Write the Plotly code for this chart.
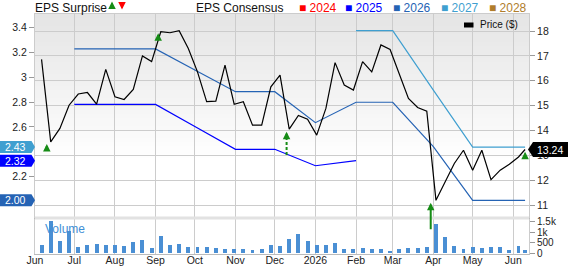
import pandas as pd
import plotly.graph_objects as go

# ---------------- data ----------------
week_dates = list(pd.date_range("2025-06-06", periods=53, freq="7D").strftime("%Y-%m-%d")) + ["2026-06-10"]
price = [16.86, 13.55, 14.09, 15.02, 15.47, 15.53, 15.06, 16.46, 15.36, 15.25,
         15.65, 17.00, 16.77, 17.97, 17.93, 18.01, 17.30, 16.36, 15.16, 15.18,
         16.63, 15.06, 15.16, 14.22, 14.22, 15.76, 16.23, 14.06, 14.61, 14.46,
         13.82, 14.89, 16.73, 15.83, 15.63, 16.77, 16.36, 17.44, 17.26, 16.30,
         15.29, 14.93, 14.78, 11.20, 11.94, 12.68, 13.21, 12.41, 13.21, 12.03,
         12.41, 12.65, 12.94, 13.24]
volume = [395, 1530, 600, 1070, 310, 395, 440, 395, 395, 330,
          535, 615, 250, 820, 395, 440, 300, 300, 285, 250,
          205, 205, 205, 160, 205, 395, 345, 680, 900, 570,
          395, 395, 500, 220, 205, 250, 205, 190, 125, 205,
          250, 265, 300, 1390, 760, 360, 205, 300, 265, 285,
          285, 160, 330, 140]

month_dates = ["2025-07-01", "2025-08-01", "2025-09-01", "2025-10-01", "2025-11-01",
               "2025-12-01", "2026-01-01", "2026-02-01", "2026-03-01", "2026-04-01",
               "2026-05-01", "2026-06-01", "2026-06-10"]
eps_2025 = [2.781, 2.781, 2.781, 2.603, 2.420, 2.420, 2.288, 2.329]
eps_2026 = [3.226, 3.226, 3.226, 3.057, 2.883, 2.883, 2.634, 2.798, 2.798, 2.442, 2.010, 2.010, 2.010]
eps_2027 = [3.373, 3.373, 2.896, 2.438, 2.438, 2.438]
dates_2025 = month_dates[:8]
dates_2026 = month_dates
dates_2027 = month_dates[7:]

eps_labels = {"2027": "2.43", "2025": "2.32", "2026": "2.00"}
price_label = "13.24"

# EPS surprise arrows: date, tip value (EPS axis), stem length (px), dashed tail value
surprise_dates = ["2025-06-10", "2025-09-03", "2025-12-10", "2026-03-30", "2026-06-10"]
surprise_tip = [2.463, 3.352, 2.561, 1.991, 2.400]
surprise_len_px = [8, 8, 0, 28, 7]
surprise_tail_dashed = [None, None, 2.374, None, None]

month_ticks = ["2025-06-01", "2025-07-01", "2025-08-01", "2025-09-01", "2025-10-01", "2025-11-01",
               "2025-12-01", "2026-01-01", "2026-02-01", "2026-03-01", "2026-04-01", "2026-05-01",
               "2026-06-01"]
month_text = ["Jun", "Jul", "Aug", "Sep", "Oct", "Nov", "Dec", "2026", "Feb", "Mar", "Apr", "May", "Jun"]

years = ["2024", "2025", "2026", "2027", "2028"]
year_colors = ["#ff0000", "#0000ff", "#2563b4", "#3f9fd0", "#b07d2b"]

# ---------------- styling ----------------
FONT = "Liberation Sans, Arial, sans-serif"
W, H = 568, 266
ML, MR, MT, MB = 35, 39, 14, 12
PW, PH = W - ML - MR, H - MT - MB
GREEN = "#168c16"
GRID = "#cccccc"


def py(px):  # pixel row -> paper y
    return (H - MB - px) / PH


def pxx(px):  # pixel col -> paper x
    return (px - ML) / PW


main_dom = [py(217), 1]
vol_dom = [0, py(219)]

fig = go.Figure()

c25, c26, c27 = year_colors[1], year_colors[2], year_colors[3]
fig.add_trace(go.Scatter(x=dates_2025, y=eps_2025, mode="lines", line=dict(color=c25, width=1.2),
                         xaxis="x", yaxis="y", hoverinfo="skip"))
fig.add_trace(go.Scatter(x=dates_2026, y=eps_2026, mode="lines", line=dict(color=c26, width=1.2),
                         xaxis="x", yaxis="y", hoverinfo="skip"))
fig.add_trace(go.Scatter(x=dates_2027, y=eps_2027, mode="lines", line=dict(color=c27, width=1.2),
                         xaxis="x", yaxis="y", hoverinfo="skip"))
fig.add_trace(go.Scatter(x=week_dates, y=price, mode="lines", line=dict(color="#000000", width=1.2),
                         xaxis="x", yaxis="y2", hoverinfo="skip"))
fig.add_trace(go.Bar(x=week_dates, y=volume, marker=dict(color="#4a8fd4", line=dict(width=0)),
                     width=3 * 86400000, xaxis="x2", yaxis="y3", hoverinfo="skip"))

# dashed stems
for d, tip, tail in zip(surprise_dates, surprise_tip, surprise_tail_dashed):
    if tail is not None:
        fig.add_trace(go.Scatter(x=[d, d], y=[tail, tip - 0.03], mode="lines",
                                 line=dict(color=GREEN, width=2, dash="3px,2px"),
                                 xaxis="x", yaxis="y", hoverinfo="skip"))

annotations = []
shapes = []

# arrows
for d, tip, L, tail in zip(surprise_dates, surprise_tip, surprise_len_px, surprise_tail_dashed):
    ay = L if tail is None else 5
    annotations.append(dict(x=d, y=tip, xref="x", yref="y", text="", showarrow=True,
                            ax=0, ay=ay, axref="pixel", ayref="pixel", arrowhead=2, arrowsize=0.75,
                            arrowwidth=2, arrowcolor=GREEN, standoff=0, startstandoff=0))

# gradient background
px0 = 14
while px0 < 160:
    c = int(round(229 + (px0 - 14) / (160 - 14) * 26))
    shapes.append(dict(type="rect", xref="paper", yref="paper", x0=0, x1=1,
                       y0=py(px0 + 4), y1=py(px0), fillcolor=f"rgb({c},{c},{c})",
                       line=dict(width=0), layer="below"))
    px0 += 4

# separator band
shapes.append(dict(type="rect", xref="paper", yref="paper", x0=0, x1=1, y0=py(219.5), y1=py(216.5),
                   fillcolor="#e2e2e2", line=dict(width=0), layer="above"))

# left EPS value markers
for yr, vals in (("2027", eps_2027), ("2025", eps_2025), ("2026", eps_2026)):
    col = year_colors[years.index(yr)]
    shapes.append(dict(type="path", xref="paper", yref="y", xsizemode="pixel", ysizemode="pixel",
                       xanchor=0, yanchor=vals[-1],
                       path="M-36,-6 L-3.5,-6 L0,0 L-3.5,6 L-36,6 Z",
                       fillcolor=col, line=dict(width=0), layer="above"))
    annotations.append(dict(x=0, y=vals[-1], xref="paper", yref="y", text=eps_labels[yr],
                            showarrow=False, xanchor="center", yanchor="middle", xshift=-20,
                            font=dict(family=FONT, size=10.5, color="#ffffff")))

# right price marker
shapes.append(dict(type="path", xref="paper", yref="y2", xsizemode="pixel", ysizemode="pixel",
                   xanchor=1, yanchor=price[-1],
                   path="M-1,0 L4,-7.5 L40,-7.5 L40,7.5 L4,7.5 Z",
                   fillcolor="#000000", line=dict(width=0), layer="above"))
annotations.append(dict(x=1, y=price[-1], xref="paper", yref="y2", text=price_label, showarrow=False,
                        xanchor="center", yanchor="middle", xshift=21,
                        font=dict(family=FONT, size=10.5, color="#ffffff")))

# price legend
shapes.append(dict(type="rect", xref="paper", yref="paper", x0=pxx(464), x1=pxx(473.5),
                   y0=py(27.5), y1=py(22.5), fillcolor="#000000", line=dict(width=0), layer="above"))
annotations.append(dict(x=pxx(478), y=py(25), xref="paper", yref="paper", text="Price ($)",
                        showarrow=False, xanchor="left", yanchor="middle",
                        font=dict(family=FONT, size=10, color="#111111")))

# volume label
annotations.append(dict(x=pxx(43), y=py(229), xref="paper", yref="paper", text="Volume",
                        showarrow=False, xanchor="left", yanchor="middle",
                        font=dict(family=FONT, size=12, color="#3f8fd6")))

# header
HEAD_Y = py(0)
annotations.append(dict(x=pxx(34), y=HEAD_Y, xref="paper", yref="paper", text="EPS Surprise",
                        showarrow=False, xanchor="left", yanchor="top", borderpad=0,
                        font=dict(family=FONT, size=12, color="#111111")))
annotations.append(dict(x=pxx(112), y=py(1.5), xref="paper", yref="paper", text="", showarrow=True,
                        ax=0, ay=8, arrowhead=2, arrowsize=0.75, arrowwidth=2, arrowcolor=GREEN,
                        standoff=0, startstandoff=0))
annotations.append(dict(x=pxx(122), y=py(9.5), xref="paper", yref="paper", text="", showarrow=True,
                        ax=0, ay=-8, arrowhead=2, arrowsize=0.75, arrowwidth=2, arrowcolor="#ff0000",
                        standoff=0, startstandoff=0))
annotations.append(dict(x=pxx(195), y=HEAD_Y, xref="paper", yref="paper", text="EPS Consensus",
                        showarrow=False, xanchor="left", yanchor="top", borderpad=0,
                        font=dict(family=FONT, size=12, color="#111111")))
year_px = [298, 344, 392, 440, 488]
for yr, col, xp in zip(years, year_colors, year_px):
    annotations.append(dict(x=pxx(xp), y=HEAD_Y, xref="paper", yref="paper", text="■ " + yr,
                            showarrow=False, xanchor="left", yanchor="top", borderpad=0,
                            font=dict(family=FONT, size=12, color=col)))

tickfont = dict(family=FONT, size=10.5, color="#222222")
x_range = ["2025-06-01", "2026-06-13"]

fig.update_layout(
    template="none",
    width=W, height=H, margin=dict(l=ML, r=MR, t=MT, b=MB, autoexpand=False),
    paper_bgcolor="#ffffff", plot_bgcolor="#ffffff", showlegend=False,
    bargap=0, annotations=annotations, shapes=shapes,
    xaxis=dict(domain=[0, 1], anchor="y", type="date", range=x_range, tickvals=month_ticks,
               ticktext=month_text, showticklabels=False, showgrid=True, gridcolor=GRID, gridwidth=1,
               showline=True, mirror=True, linecolor=GRID, ticks="", zeroline=False, automargin=False),
    xaxis2=dict(domain=[0, 1], anchor="y3", type="date", range=x_range, matches="x",
                tickvals=month_ticks, ticktext=month_text, showticklabels=True,
                tickfont=dict(family=FONT, size=10.5, color="#222222"), ticklabelstandoff=-4,
                showgrid=True, gridcolor=GRID, gridwidth=1, showline=True, mirror=True,
                linecolor="#bbbbbb", ticks="", zeroline=False, automargin=False),
    yaxis=dict(domain=main_dom, anchor="x", side="left", range=[1.8763, 3.5068],
               tickvals=[2.2, 2.6, 2.8, 3.0, 3.2, 3.4], ticktext=["2.2", "2.6", "2.8", "3", "3.2", "3.4"],
               ticks="outside", ticklen=5, tickcolor="#999999", tickfont=tickfont, showgrid=False,
               showline=True, linecolor=GRID, zeroline=False, automargin=False),
    yaxis2=dict(overlaying="y", anchor="x", side="right", range=[10.53, 18.683],
                tickvals=[11, 12, 13, 14, 15, 16, 17, 18], ticks="outside", ticklen=5, tickcolor="#999999",
                tickfont=tickfont, showgrid=True, gridcolor=GRID, gridwidth=1, showline=True,
                linecolor=GRID, zeroline=False, automargin=False),
    yaxis3=dict(domain=vol_dom, anchor="x2", side="right", range=[-33, 1628],
                tickvals=[0, 500, 1000, 1500], ticktext=["0", "500", "1k", "1.5k"], ticks="outside",
                ticklen=5, tickcolor="#999999", tickfont=dict(family=FONT, size=10, color="#222222"),
                showgrid=False, showline=True, mirror=True, linecolor=GRID, zeroline=False, automargin=False),
)

fig.write_html("out.html")
